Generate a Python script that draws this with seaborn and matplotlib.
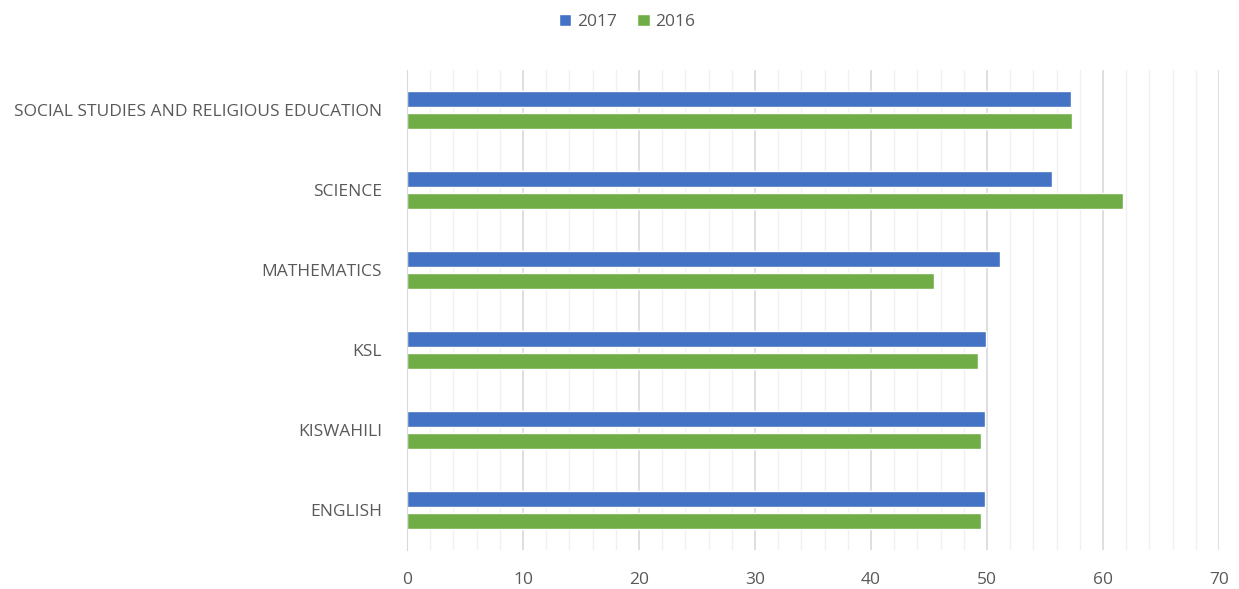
import pandas as pd
import seaborn as sns
import matplotlib.pyplot as plt
from matplotlib.ticker import MultipleLocator

subjects = ['SOCIAL STUDIES AND RELIGIOUS EDUCATION', 'SCIENCE', 'MATHEMATICS',
            'KSL', 'KISWAHILI', 'ENGLISH']
scores_2017 = [57.2, 55.6, 51.1, 49.9, 49.8, 49.8]
scores_2016 = [57.3, 61.7, 45.4, 49.2, 49.5, 49.5]
years = ['2017', '2016']

sns.set_style('white')
plt.rcParams['font.family'] = ['Open Sans', 'DejaVu Sans']

data = pd.DataFrame({
    'subject': subjects * 2,
    'score': scores_2017 + scores_2016,
    'year': [years[0]] * len(subjects) + [years[1]] * len(subjects),
})

fig = plt.figure(figsize=(12.39, 5.89), dpi=100)
ax = fig.add_axes([407 / 1239, 39 / 589, 812 / 1239, 480 / 589])

sns.barplot(data=data, x='score', y='subject', hue='year', order=subjects,
            hue_order=years, palette=['#4472C4', '#70AD47'], orient='h',
            saturation=1, width=0.55, gap=0.3, ax=ax, legend=True)

ax.set_xlim(0, 70)
ax.set_ylim(5.5, -0.5)
ax.xaxis.set_major_locator(MultipleLocator(10))
ax.xaxis.set_minor_locator(MultipleLocator(2))
ax.grid(axis='x', which='major', color='#d9d9d9', linewidth=1.2)
ax.grid(axis='x', which='minor', color='#f0f0f0', linewidth=1.0)
ax.set_axisbelow(True)
ax.set_xlabel('')
ax.set_ylabel('')

for side in ['top', 'right', 'bottom']:
    ax.spines[side].set_visible(False)
ax.spines['left'].set_color('#d9d9d9')

# category separators on the y axis, Excel style
ax.set_yticks([i + 0.5 for i in range(-1, len(subjects))], minor=True)
ax.tick_params(axis='y', which='minor', length=7, color='#d9d9d9', width=1)
ax.tick_params(axis='y', which='major', length=0, pad=18, labelsize=12.5,
               labelcolor='#595959')
ax.tick_params(axis='x', which='both', length=0, pad=16, labelsize=12.5,
               labelcolor='#595959')

ax.legend(loc='center', bbox_to_anchor=(0.271, 1.1),
          ncol=2, frameon=False, fontsize=12.5, handlelength=0.7,
          handleheight=0.7, handletextpad=0.3, columnspacing=1.2,
          labelcolor='#595959')

fig.savefig('out.png', dpi=100)
